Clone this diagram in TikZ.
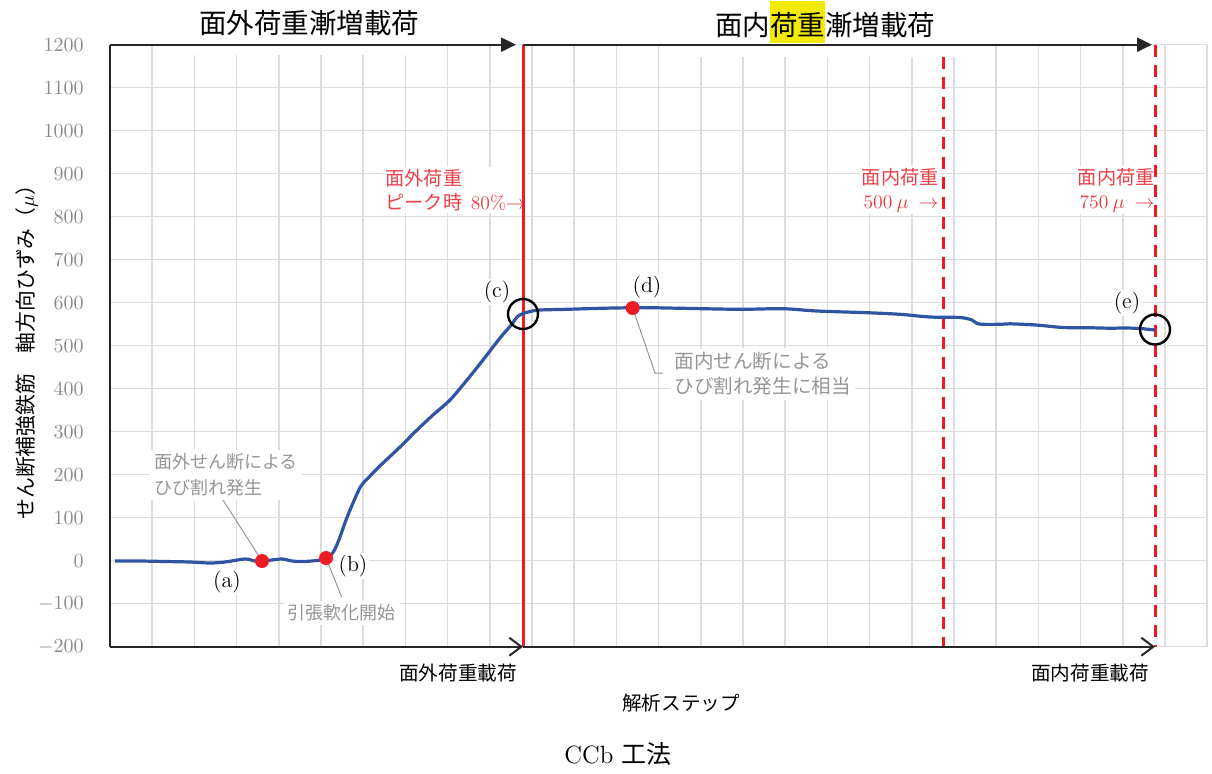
\documentclass[tikz,border=0pt]{standalone}
\usepackage{amsmath}
\usepackage{fontspec}
\usepackage{tikz}
\usetikzlibrary{arrows.meta}

\newfontfamily\jp{Noto Sans CJK JP}
\definecolor{gridgray}{RGB}{220,220,220}
\definecolor{tickgray}{RGB}{137,137,137}
\definecolor{notegray}{RGB}{150,150,150}
\definecolor{curveblue}{RGB}{46,84,162}
\definecolor{lineRed}{RGB}{237,28,36}
\definecolor{labelRed}{RGB}{235,64,74}
\definecolor{hilite}{RGB}{242,234,0}

\begin{document}
\begin{tikzpicture}[x=0.5pt, y=-0.5pt]
  \useasboundingbox (0,0) rectangle (1212,773);

  % grid
  \begin{scope}[gridgray, line width=0.75pt]
    \foreach \k in {1,...,26}
      \draw ({110+42.2*\k},44.7) -- ({110+42.2*\k},646.7);
    \foreach \j in {0,...,14}
      \draw (110,{44.7+43*\j}) -- (1207.2,{44.7+43*\j});
  \end{scope}

  \coordinate (tl) at (110,44.7);
  \coordinate (tm) at (523,44.7);
  \coordinate (tr) at (1155,44.7);
  \coordinate (bl) at (110,646.7);
  \coordinate (bm) at (523,646.7);
  \coordinate (br) at (1155,646.7);
  \coordinate (dtop) at (943,57);
  \coordinate (dbot) at (943,646.7);

  % tick labels
  \begin{scope}[every node/.style={anchor=east, text=tickgray, inner sep=0pt, font=\fontsize{9.6}{11}\selectfont}]
    \foreach \v in {-200,-100,...,1200}
      \node (tick\v) at (84,{560.7-0.43*\v}) {$\v$};
  \end{scope}

  % titles
  \begin{scope}[every node/.style={anchor=base, fill=white, inner ysep=0pt, text depth=11pt, font=\jp\fontsize{13.75}{16}\selectfont}]
    \node [inner xsep=12pt] (outTitle) at (309,33) {面外荷重漸増載荷};
    \node [inner xsep=15pt] (inTitle) at (825,35) {面内{\fboxsep=0pt\colorbox{hilite}{\rule[-4pt]{0pt}{21pt}荷重}}漸増載荷};
  \end{scope}

  % load stage labels
  \begin{scope}[every node/.style={text=labelRed, fill=white, inner sep=1pt, font=\jp\fontsize{9.6}{12}\selectfont}]
    \node [anchor=west, align=left] (peakNote) at (383,190) {面外荷重\\ピーク時\ \ {\rmfamily 80\%}$\rightarrow$};
    \node [anchor=east, align=right] (note500) at (941,190) {面内荷重\\{\rmfamily 500} $\mu\ \rightarrow$};
    \node [anchor=east, align=right] (note750) at (1157,190) {面内荷重\\{\rmfamily 750} $\mu\ \rightarrow$};
  \end{scope}

  % remarks
  \begin{scope}[every node/.style={text=notegray, fill=white, inner sep=2pt, align=left, font=\jp\fontsize{9}{13}\selectfont}]
    \node [anchor=west] (noteA) at (150,475) {面外せん断による\\ひび割れ発生};
    \node (noteB) at (341.5,613) {引張軟化開始};
    \node [anchor=west, font=\jp\fontsize{9.8}{12.5}\selectfont] (noteD) at (670,374) {面内せん断による\\ひび割れ発生に相当};
  \end{scope}

  % point labels
  \begin{scope}[every node/.style={fill=white, inner sep=1pt, font=\fontsize{11}{13}\selectfont}]
    \node (labA) at (227,582) {(a)};
    \node (labB) at (353,566) {(b)};
    \node (labC) at (497,292) {(c)};
    \node (labD) at (647,287) {(d)};
    \node (labE) at (1127,303) {(e)};
  \end{scope}

  % loading lines
  \begin{scope}[lineRed, line width=1.5pt]
    \draw (tm) -- (bm);
    \draw [dash pattern=on 6pt off 4pt] (dtop) -- (dbot);
    \draw [dash pattern=on 6pt off 4pt] (tr) -- (br);
  \end{scope}

  % axes
  \draw [black!85, line width=0.8pt] (tl) -- (bl);
  \begin{scope}[-{Triangle[length=7.5pt,width=7pt]}, line width=1.1pt, black!85]
    \draw (tl) -- ([xshift=-3.5pt]tm);
    \draw (tm) -- ([xshift=-1.5pt]tr);
  \end{scope}
  \begin{scope}[-{Straight Barb[length=6pt,width=9pt]}, line width=1pt, black!85]
    \draw (bl) -- (bm);
    \draw (bm) -- (br);
  \end{scope}

  % strain curve
  \draw [curveblue, line width=1.6pt, line join=round] plot [smooth, tension=0.5] coordinates {
    (115,561) (140,561) (165,561.5) (190,562) (210,563) (225,562) (245,559) (255,561)
    (262,561) (272,560) (282,559) (292,561) (302,561.5) (312,561) (320,560) (326,558)
    (331,555) (335,549) (340,537) (346,520) (353,503) (361,486) (371,475) (383,463)
    (400,447) (417,430) (433,415) (450,400) (467,380) (483,360) (500,338) (512,324)
    (517,317) (522,314) (530,311.5) (540,310) (567,309.3) (600,308.3) (633,307.7)
    (650,307.7) (683,308.3) (740,309.3) (783,308.7) (817,311) (867,312.7) (900,314.3)
    (930,317) (960,317.5) (972,320) (979,324) (1000,324.3) (1010,323.8)
    (1036,325) (1063,327.5) (1088,327.7) (1110,328.2) (1125,328) (1140,328.5)
    (1155,330)};

  % leaders
  \coordinate (pA) at (262,561);
  \coordinate (pB) at (326,558);
  \coordinate (pD) at (632.7,308);
  \coordinate (leadA) at (223,500);
  \coordinate (leadB) at (341.7,597);
  \coordinate (leadD) at (655,373);
  \coordinate (leadDend) at (663,373);
  \begin{scope}[notegray, line width=0.5pt]
    \draw (leadA) -- (pA);
    \draw (leadB) -- (pB);
    \draw (pD) -- (leadD) -- (leadDend);
  \end{scope}

  % marks
  \begin{scope}[every node/.style={circle, fill=lineRed, minimum size=7pt, inner sep=0pt}]
    \node (dotA) at (pA) {};
    \node (dotB) at (pB) {};
    \node (dotD) at (pD) {};
  \end{scope}
  \begin{scope}[every node/.style={circle, draw=black, line width=1.2pt, minimum size=15pt, inner sep=0pt}]
    \node (ringC) at (523,314) {};
    \node (ringE) at (1155,329.5) {};
  \end{scope}

  % axis texts
  \node [font=\jp\fontsize{10.4}{12}\selectfont, rotate=90] (yLabel) at (27,347) {せん断補強鉄筋　軸方向ひずみ（$\mu$）};
  \begin{scope}[every node/.style={font=\jp\fontsize{9.8}{12}\selectfont}]
    \node (outLoad) at (458,673) {面外荷重載荷};
    \node (inLoad) at (1090,673) {面内荷重載荷};
    \node (xLabel) at (681,703) {解析ステップ};
  \end{scope}
  \node [font=\fontsize{12.5}{15}\selectfont] (method) at (618,754) {CCb {\jp 工法}};
\end{tikzpicture}
\end{document}
